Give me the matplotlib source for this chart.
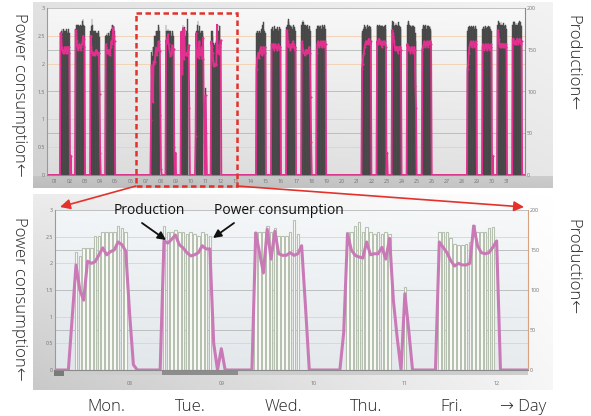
## Import libraries
import numpy as np
import matplotlib.pyplot as plt
import matplotlib.colors as mcolors
from matplotlib.patches import Rectangle
from matplotlib.ticker import FixedLocator, FuncFormatter

## Hourly values: consumption lists start at 05:00, production lists at 06:00
CONS_START = 5
PROD_START = 6

## Week 1 (Tue 01 - Fri 04)
cons_01 = [0, 2.55, 2.5, 2.3, 2.25, 2.2, 2.25, 2.2, 2.3, 2.2, 2.25, 2.3, 2.2, 2.25, 2.3, 2.2, 0, 0.35, 0]
prod_01 = [170, 173, 175, 170, 173, 175, 173, 170, 173, 175, 173, 170, 173, 175, 170]
cons_02 = [0, 2.6, 2.55, 2.4, 2.3, 2.25, 2.3, 2.35, 2.3, 2.25, 2.3, 2.35, 2.4, 2.5, 2.45, 2.3, 0]
prod_02 = [175, 180, 178, 180, 177, 180, 178, 177, 180, 178, 180, 185, 187, 180, 178]
cons_03 = [0, 2.5, 2.3, 2.2, 2.2, 2.15, 2.2, 2.2, 2.15, 2.2, 2.25, 2.2, 2.2, 2.15, 2.2, 1.45, 0.4, 0]
prod_03 = [173, 178, 187, 180, 173, 170, 173, 170, 173, 170, 168, 170, 173, 170, 165]
cons_04 = [0, 2.35, 2.3, 2.2, 2.2, 2.25, 2.2, 2.15, 2.2, 2.3, 2.4, 2.35, 2.5, 2.65, 2.5, 2.4, 0]
prod_04 = [167, 168, 170, 167, 170, 168, 167, 170, 172, 175, 180, 180, 178, 175, 173]

## Week 2 (Mon 07 - Fri 11), the part shown enlarged below
cons_mon = [0, 0.98, 1.97, 1.5, 1.31, 2.04, 2.0, 2.03, 2.16, 2.29, 2.16, 2.22, 2.25, 2.4, 2.35, 2.23, 1.07, 0.1, 0]
prod_mon = [0, 147, 143, 153, 153, 153, 167, 167, 173, 173, 173, 173, 180, 177, 173]
cons_tue = [0, 2.42, 2.38, 2.45, 2.53, 2.35, 2.29, 2.2, 2.14, 2.16, 2.2, 2.33, 2.27, 2.27, 0.5, 0, 0.4, 0]
prod_tue = [180, 173, 173, 175, 173, 173, 170, 173, 170, 167, 173, 170, 167]
cons_wed = [0, 2.57, 2.2, 1.82, 2.64, 2.08, 2.6, 2.18, 2.15, 2.15, 2.2, 2.15, 2.18, 2.33, 1.2, 0]
prod_wed = [173, 173, 173, 180, 173, 177, 167, 167, 167, 173, 187, 170]
cons_thu = [0.7, 2.55, 2.25, 2.15, 2.12, 2.1, 2.4, 2.16, 2.18, 2.18, 2.3, 2.08, 2.47, 1.3, 0.6, 0, 1.43, 0.75, 0]
prod_thu = [173, 173, 180, 185, 173, 179, 173, 170, 173, 170, 173, 170, 0, 0, 0, 104]
cons_fri = [0, 2.4, 2.3, 2.2, 2.05, 1.95, 2.0, 1.97, 1.97, 2.0, 2.7, 2.33, 2.2, 2.18, 2.2, 2.3, 2.42, 0]
prod_fri = [173, 173, 173, 165, 158, 156, 156, 158, 160, 181, 173, 173, 173, 178, 179]

## Week 3 (Mon 14 - Fri 18)
cons_14 = [0, 1.9, 2.1, 2.15, 2.2, 2.1, 2.2, 2.25, 2.3, 2.2, 2.15, 2.2, 2.3, 2.25, 2.2, 2.3, 0]
prod_14 = [170, 172, 173, 170, 173, 172, 170, 173, 175, 173, 180, 183, 175, 173, 170]
cons_15 = [0, 2.35, 2.3, 2.3, 2.35, 2.25, 2.3, 2.35, 2.3, 2.3, 2.25, 2.3, 2.35, 2.3, 2.25, 2.3, 0]
prod_15 = [175, 177, 175, 173, 177, 178, 175, 173, 175, 177, 175, 173, 175, 177, 175]
cons_16 = [0, 2.6, 2.55, 2.4, 2.3, 2.35, 2.3, 2.25, 2.3, 2.35, 2.3, 2.4, 2.35, 2.3, 2.25, 2.3, 0]
prod_16 = [177, 180, 185, 187, 183, 180, 178, 180, 177, 175, 178, 180, 177, 175, 173]
cons_17 = [0, 2.4, 2.35, 2.25, 2.2, 2.2, 2.15, 2.2, 2.25, 2.2, 2.2, 2.25, 2.2, 2.3, 2.2, 1.4, 0.6, 0]
prod_17 = [180, 183, 186, 183, 180, 178, 180, 177, 178, 180, 177, 175, 178, 175, 173]
cons_18 = [0, 2.2, 2.35, 2.4, 2.35, 2.3, 2.35, 2.4, 2.35, 2.3, 2.35, 2.4, 2.35, 2.3, 2.4, 2.35, 0]
prod_18 = [175, 178, 180, 178, 177, 180, 178, 175, 178, 180, 178, 177, 180, 178, 175]

## Week 4 (Mon 21 - Fri 25)
cons_21 = [0, 1.9, 2.0, 2.15, 2.2, 2.3, 2.35, 2.4, 2.35, 2.4, 2.35, 2.4, 2.45, 2.4, 2.35, 2.4, 0]
prod_21 = [170, 173, 175, 177, 180, 178, 177, 175, 178, 180, 177, 175, 178, 177, 175]
cons_22 = [0, 2.4, 2.35, 2.4, 2.45, 2.4, 2.35, 2.4, 2.35, 2.3, 2.35, 2.4, 2.35, 2.4, 2.35, 2.3, 0, 0.4, 0]
prod_22 = [178, 180, 178, 177, 180, 178, 175, 178, 180, 178, 177, 175, 178, 180, 175]
cons_23 = [0, 2.6, 2.55, 2.5, 2.4, 2.3, 2.25, 2.3, 2.25, 2.3, 2.2, 2.25, 2.3, 2.25, 2.3, 2.25, 0]
prod_23 = [180, 185, 183, 180, 178, 180, 182, 180, 178, 180, 183, 180, 178, 177, 175]
cons_24 = [0, 2.35, 2.3, 2.25, 2.3, 2.25, 2.2, 2.25, 2.3, 2.25, 2.2, 2.25, 2.3, 2.25, 1.6, 1.2, 0]
prod_24 = [180, 183, 185, 182, 180, 178, 180, 177, 178, 180, 178, 175, 177, 170, 160]
cons_25 = [0, 2.25, 2.3, 2.35, 2.4, 2.35, 2.3, 2.35, 2.4, 2.35, 2.3, 2.35, 2.4, 2.35, 2.4, 2.35, 0]
prod_25 = [175, 178, 180, 178, 177, 180, 178, 175, 178, 180, 178, 177, 178, 175, 173]

## Week 5 (Mon 28 - Thu 31)
cons_28 = [0, 1.9, 2.0, 2.2, 2.3, 2.35, 2.4, 2.35, 2.3, 2.35, 2.4, 2.35, 2.3, 2.35, 2.4, 2.35, 0]
prod_28 = [173, 175, 177, 178, 175, 177, 178, 175, 177, 178, 177, 175, 177, 178, 175]
cons_29 = [0, 2.3, 2.35, 2.3, 2.25, 2.3, 2.35, 2.3, 2.25, 2.3, 2.35, 2.3, 2.25, 2.3, 2.35, 2.3, 0, 0.35, 0]
prod_29 = [175, 177, 178, 175, 177, 178, 176, 175, 177, 178, 175, 177, 178, 175, 173]
cons_30 = [0, 2.6, 2.55, 2.45, 2.35, 2.3, 2.35, 2.3, 2.35, 2.3, 2.35, 2.3, 2.35, 2.3, 2.35, 2.3, 0]
prod_30 = [180, 185, 183, 182, 180, 183, 180, 178, 180, 182, 180, 178, 180, 178, 175]
cons_31 = [0, 2.45, 2.45, 2.4, 2.35, 2.4, 2.35, 2.4, 2.45, 2.4, 2.35, 2.4, 2.45, 2.4, 2.35, 2.4, 0]
prod_31 = [180, 183, 185, 183, 180, 182, 180, 178, 180, 182, 183, 185, 183, 180, 178]

work_days = [1, 2, 3, 4, 7, 8, 9, 10, 11, 14, 15, 16, 17, 18, 21, 22, 23, 24, 25, 28, 29, 30, 31]
day_cons = [cons_01, cons_02, cons_03, cons_04, cons_mon, cons_tue, cons_wed, cons_thu, cons_fri,
            cons_14, cons_15, cons_16, cons_17, cons_18, cons_21, cons_22, cons_23, cons_24, cons_25,
            cons_28, cons_29, cons_30, cons_31]
day_prod = [prod_01, prod_02, prod_03, prod_04, prod_mon, prod_tue, prod_wed, prod_thu, prod_fri,
            prod_14, prod_15, prod_16, prod_17, prod_18, prod_21, prod_22, prod_23, prod_24, prod_25,
            prod_28, prod_29, prod_30, prod_31]

month_days = list(range(1, 32))
zoom_days = [8, 9, 10, 11, 12]
day_names = ['Mon.', 'Tue.', 'Wed.', 'Thu.', 'Fri.']

## Build the hourly series for the whole month (hour 0 = 00:00 on day 01)
hours = np.arange(-24, 31 * 24 + 1)
cons = np.zeros(len(hours))
prod = np.zeros(len(hours))
for d, c, p in zip(work_days, day_cons, day_prod):
    i0 = (d - 1) * 24 + CONS_START + 24
    cons[i0:i0 + len(c)] = c
    j0 = (d - 1) * 24 + PROD_START + 24
    prod[j0:j0 + len(p)] = p
has_prod = prod > 0

## day ticks of the logger sit at 21:00 of the previous day
def day_tick(d):
    return (d - 1) * 24 - 3

## Figure in pixel units
W, H = 591, 416
fig = plt.figure(figsize=(W / 100, H / 100), dpi=100)
plt.rcParams['font.family'] = ['Open Sans', 'DejaVu Sans']

def px_axes(x0, y0, x1, y1):
    return fig.add_axes([x0 / W, 1 - y1 / H, (x1 - x0) / W, (y1 - y0) / H])

def gradient(ax, x0, y0, x1, y1, tl, tr, bl, br):
    c = [np.array(mcolors.to_rgb(k)) for k in (tl, tr, bl, br)]
    u = np.linspace(0, 1, 64)[None, :, None]
    v = np.linspace(0, 1, 64)[:, None, None]
    img = (1 - v) * ((1 - u) * c[0] + u * c[1]) + v * ((1 - u) * c[2] + u * c[3])
    ax.imshow(img, extent=(x0, x1, y1, y0), aspect='auto', interpolation='bilinear')

## Background (screenshot frames)
bg = px_axes(0, 0, W, H)
bg.set_zorder(0)
gradient(bg, 33, 2, 553, 188, '#e2e2e2', '#f3f3f3', '#cfcfcf', '#e6e6e6')
gradient(bg, 47, 8, 525, 175, '#f7f7f7', '#f8f8f8', '#dcdcdc', '#e2e2e2')
gradient(bg, 33, 176, 553, 188, '#c4c4c4', '#cdcdcd', '#bcbcbc', '#c6c6c6')
gradient(bg, 33, 194, 553, 390, '#ececec', '#ffffff', '#c9c9c9', '#f6f6f6')
gradient(bg, 55, 210, 528, 370, '#f3f6f8', '#f6f8f9', '#e1e6ea', '#e7ebee')
bg.add_patch(Rectangle((55, 370.5), 473, 4.5, color='#cdcdcd', lw=0))
bg.add_patch(Rectangle((162, 370.5), 76, 4.5, color='#8d8d8d', lw=0))
bg.add_patch(Rectangle((54, 369.5), 10, 6, color='#7a7a7a', lw=0))
bg.set_xlim(0, W)
bg.set_ylim(H, 0)
bg.axis('off')

def setup(ax_c, ax_p, xlim, ticks, labels, tick_pad, right_color):
    ax_c.set_zorder(ax_p.get_zorder() + 1)
    ax_c.patch.set_visible(False)
    ax_p.patch.set_visible(False)
    ax_c.set_xlim(*xlim)
    ax_c.set_ylim(0, 3)
    ax_p.set_ylim(0, 200)
    ax_c.set_yticks(np.arange(0, 3.01, 0.5))
    ax_c.yaxis.set_major_formatter(FuncFormatter(lambda v, pos: '%g' % v))
    ax_p.set_yticks(range(0, 201, 50))
    ax_p.yaxis.set_minor_locator(FixedLocator(np.arange(0, 3.01, 0.5) * 200 / 3))
    ax_p.grid(axis='y', which='major', color='#b4b8b8', lw=0.6)
    ax_p.grid(axis='y', which='minor', color='#f1cfae', lw=0.6)
    ax_p.set_axisbelow(True)
    ax_c.set_xticks(ticks)
    ax_c.set_xticklabels(labels)
    for ax in (ax_c, ax_p):
        ax.tick_params(labelsize=3.8, colors='#707070', length=0, pad=1.5, which='both')
        for s in ax.spines.values():
            s.set_visible(False)
    ax_c.tick_params(axis='x', pad=tick_pad)
    ax_c.spines['left'].set_visible(True)
    ax_c.spines['left'].set_color('#9a9a9a')
    ax_c.spines['bottom'].set_visible(True)
    ax_c.spines['bottom'].set_color('#8a8a8a')
    ax_p.spines['right'].set_visible(True)
    ax_p.spines['right'].set_color(right_color)

## Upper chart: whole month
ax_tc = px_axes(47, 8, 525, 175)
ax_tp = ax_tc.twinx()
setup(ax_tc, ax_tp, (-15.6, 745.5), [day_tick(d) for d in month_days],
      ['%02d' % d for d in month_days], 3, '#8a8a8a')
ax_tp.bar(hours[has_prod], prod[has_prod], width=1.0, color='#575757', edgecolor='#404040', lw=0.3)
ax_tc.plot(hours, cons, color='#e2308f', lw=1.3, marker='o', ms=1.5, mew=0)

## Lower chart: Mon 07 - Fri 11
ax_bc = px_axes(55, 210, 528, 370)
ax_bp = ax_bc.twinx()
setup(ax_bc, ax_bp, (145.5, 269.2), [day_tick(d) for d in zoom_days],
      ['%02d' % d for d in zoom_days], 8, '#d9a27e')
ax_bp.bar(hours[has_prod], prod[has_prod], width=0.68, color='#fdfdf9', edgecolor='#b7c1b2', lw=0.8)
ax_bc.plot(hours, cons, color='#c97ab6', lw=2.2, solid_joinstyle='round')

## Overlay: zoom frame, arrows and labels
ov = px_axes(0, 0, W, H)
ov.set_zorder(10)
ov.patch.set_visible(False)
ov.set_xlim(0, W)
ov.set_ylim(H, 0)
ov.axis('off')

red = '#e4322b'
ov.add_patch(Rectangle((136, 13), 101, 173, fill=False, ec=red, lw=1.8, ls=(0, (2.2, 1.4))))
for start, end in [((136, 186), (60, 207)), ((237, 186), (524, 207))]:
    ov.annotate('', xy=end, xytext=start,
                arrowprops=dict(arrowstyle='-|>', color=red, lw=1.2, mutation_scale=15,
                                shrinkA=0, shrinkB=0))

ov.text(149, 211, 'Production', ha='center', va='center', fontsize=10, color='#111111')
ov.text(279, 211, 'Power consumption', ha='center', va='center', fontsize=10, color='#111111')
ov.annotate('', xy=(166, 240), xytext=(142, 223),
            arrowprops=dict(arrowstyle='-|>', color='#111111', lw=1.3, mutation_scale=12,
                            shrinkA=0, shrinkB=0))
ov.annotate('', xy=(213, 238), xytext=(234, 223),
            arrowprops=dict(arrowstyle='-|>', color='#111111', lw=1.3, mutation_scale=12,
                            shrinkA=0, shrinkB=0))

side_color = '#262626'
side_kw = dict(rotation=-90, ha='center', va='center', fontsize=12, color=side_color,
               fontweight='light')
ov.text(19, 95, 'Power consumption\u2190', **side_kw)
ov.text(19, 299, 'Power consumption\u2190', **side_kw)
ov.text(572, 63, 'Production\u2190', **side_kw)
ov.text(572, 267, 'Production\u2190', **side_kw)

for name, x in zip(day_names, [106, 190, 283, 366, 452]):
    ov.text(x, 407, name, ha='center', va='center', fontsize=12, color=side_color,
            fontweight='light')
ov.text(523, 407, '\u2192 Day', ha='center', va='center', fontsize=12, color=side_color,
        fontweight='light')

plt.savefig('out.png', dpi=100)
